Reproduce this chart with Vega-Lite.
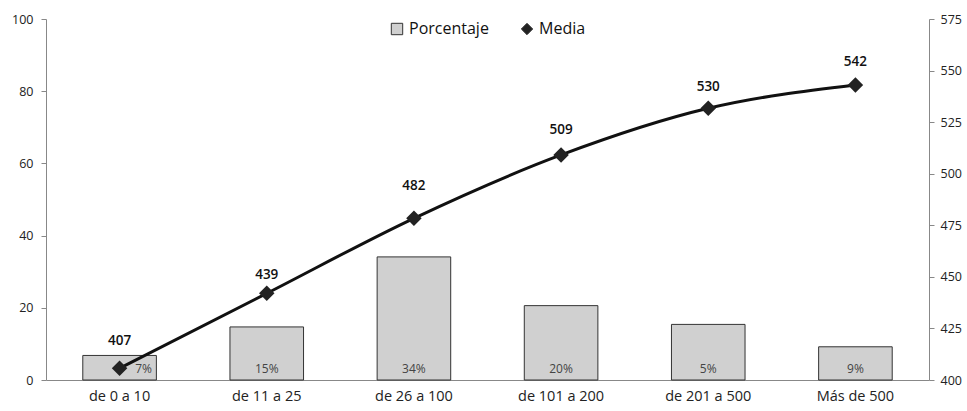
{
  "$schema": "https://vega.github.io/schema/vega-lite/v6.json",
  "width": 883,
  "height": 361,
  "autosize": {"type": "none"},
  "padding": {"left": 46, "top": 19, "right": 38, "bottom": 31},
  "config": {
    "font": "Open Sans",
    "view": {"stroke": null},
    "axis": {"domainColor": "#888", "tickColor": "#888", "labelColor": "#222", "labelFontSize": 12.5, "grid": false}
  },
  "data": {"values": [
    {"tramo": "de 0 a 10", "porcentaje": 6.8, "etiqueta": "7%", "media": 407, "punto": 405.7},
    {"tramo": "de 11 a 25", "porcentaje": 14.7, "etiqueta": "15%", "media": 439, "punto": 442.0},
    {"tramo": "de 26 a 100", "porcentaje": 34.1, "etiqueta": "34%", "media": 482, "punto": 478.4},
    {"tramo": "de 101 a 200", "porcentaje": 20.6, "etiqueta": "20%", "media": 509, "punto": 509.1},
    {"tramo": "de 201 a 500", "porcentaje": 15.4, "etiqueta": "5%", "media": 530, "punto": 531.7},
    {"tramo": "Más de 500", "porcentaje": 9.2, "etiqueta": "9%", "media": 542, "punto": 543.0}
  ]},
  "encoding": {
    "x": {"field": "tramo", "type": "nominal", "sort": null,
      "scale": {"paddingInner": 0.5, "paddingOuter": 0.25},
      "axis": {"title": null, "labelAngle": 0, "ticks": false, "labelPadding": 9, "labelFontSize": 14.5}}
  },
  "layer": [
    {
      "layer": [
        {
          "mark": {"type": "bar", "stroke": "#333", "strokeWidth": 1},
          "encoding": {
            "y": {"field": "porcentaje", "type": "quantitative", "scale": {"domain": [0, 100]},
              "axis": {"title": null, "values": [0, 20, 40, 60, 80, 100], "tickSize": 5, "labelPadding": 8}},
            "color": {"datum": "Porcentaje", "type": "nominal",
              "scale": {"domain": ["Porcentaje", "Media"], "range": ["#d0d0d0", "#222222"]},
              "legend": {"title": null, "orient": "none", "legendX": 343, "legendY": 2, "direction": "horizontal",
                "labelFontSize": 16, "labelColor": "#111", "symbolSize": 130, "columnPadding": 30,
                "symbolStrokeWidth": 1, "symbolStrokeColor": "#333"}
            }
          }
        },
        {
          "transform": [{"filter": "datum.tramo !== 'de 0 a 10'"}],
          "mark": {"type": "text", "baseline": "bottom", "fontSize": 12, "color": "#444"},
          "encoding": {
            "y": {"datum": 1, "type": "quantitative", "scale": {"domain": [0, 100]},
              "axis": {"title": null, "values": [0, 20, 40, 60, 80, 100], "tickSize": 5, "labelPadding": 8}},
            "text": {"field": "etiqueta"}
          }
        },
        {
          "transform": [{"filter": "datum.tramo === 'de 0 a 10'"}],
          "mark": {"type": "text", "baseline": "bottom", "dx": 24, "fontSize": 12, "color": "#444"},
          "encoding": {
            "y": {"datum": 1, "type": "quantitative", "scale": {"domain": [0, 100]},
              "axis": {"title": null, "values": [0, 20, 40, 60, 80, 100], "tickSize": 5, "labelPadding": 8}},
            "text": {"field": "etiqueta"}
          }
        }
      ]
    },
    {
      "layer": [
        {
          "mark": {"type": "line", "interpolate": "monotone", "color": "#111", "strokeWidth": 3},
          "encoding": {
            "y": {"field": "punto", "type": "quantitative", "scale": {"domain": [400, 575]},
              "axis": {"orient": "right", "title": null, "values": [400, 425, 450, 475, 500, 525, 550, 575], "tickSize": 5, "labelPadding": 6}}
          }
        },
        {
          "mark": {"type": "point", "filled": true, "size": 240, "opacity": 1},
          "encoding": {
            "y": {"field": "punto", "type": "quantitative", "scale": {"domain": [400, 575]},
              "axis": {"orient": "right", "title": null, "values": [400, 425, 450, 475, 500, 525, 550, 575], "tickSize": 5, "labelPadding": 6}},
            "color": {"datum": "Media", "type": "nominal"},
            "shape": {"datum": "Media", "type": "nominal",
              "scale": {"domain": ["Porcentaje", "Media"], "range": ["square", "diamond"]}}
          }
        },
        {
          "mark": {"type": "text", "dy": -25, "fontSize": 13.5, "fontWeight": 600, "color": "#111"},
          "encoding": {
            "y": {"field": "media", "type": "quantitative", "scale": {"domain": [400, 575]},
              "axis": {"orient": "right", "title": null, "values": [400, 425, 450, 475, 500, 525, 550, 575], "tickSize": 5, "labelPadding": 6}},
            "text": {"field": "media", "type": "quantitative"}
          }
        }
      ]
    }
  ],
  "resolve": {"scale": {"y": "independent"}}
}
